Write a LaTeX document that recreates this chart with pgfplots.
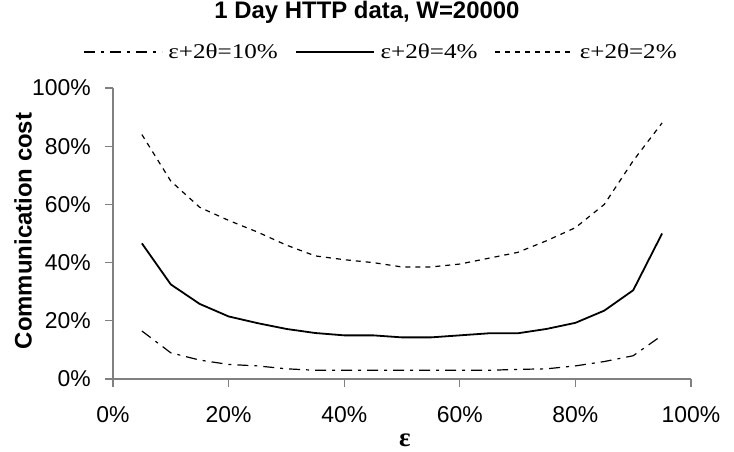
\documentclass[border=0pt]{standalone}
\usepackage{pgfplots}
\pgfplotsset{compat=1.18}
\usepackage{fontspec}
\usepackage{graphicx}
\setmainfont{Liberation Sans}
\newfontfamily\tnr{Liberation Serif}
\newcommand{\legtxt}[1]{\scalebox{1.2}[1]{\tnr\fontsize{21}{25}\selectfont #1}}
\begin{document}
\begin{tikzpicture}
\useasboundingbox (-113bp,-73bp) rectangle (621bp,379bp);
\begin{axis}[
  scale only axis, width=578bp, height=291bp,
  xmin=0, xmax=100, ymin=0, ymax=100,
  axis x line*=bottom, axis y line*=left,
  axis line style={draw=gray, line width=1.3bp, -},
  tick style={draw=gray, line width=1.3bp},
  tick align=outside, major tick length=8bp,
  xtick={0,20,40,60,80,100}, xticklabels={0\%,20\%,40\%,60\%,80\%,100\%},
  ytick={0,20,40,60,80,100}, yticklabels={0\%,20\%,40\%,60\%,80\%,100\%},
  ticklabel style={font=\fontsize{23}{27}\selectfont, inner sep=0pt},
  xticklabel style={anchor=center, yshift=-28bp},
  yticklabel style={anchor=east, xshift=-14bp},
  xlabel={\tnr\bfseries ε},
  xlabel style={at={(axis description cs:0.505,-0.2096)}, anchor=center, font=\fontsize{27}{30}\selectfont},
  ylabel={\bfseries Communication cost},
  ylabel style={at={(axis description cs:-0.1557,0.5086)}, anchor=center, font=\fontsize{24}{28}\selectfont},
  title={\bfseries 1 Day HTTP data, W=20000},
  title style={at={(axis description cs:0.4394,1.2388)}, anchor=center, font=\fontsize{24}{28}\selectfont},
  legend style={at={(axis description cs:0.4619,1.1237)}, anchor=center, draw=none, fill=none,
    inner sep=0pt, nodes={inner sep=0pt},
    legend columns=3,
    /tikz/every odd column/.append style={column sep=6bp},
    /tikz/every even column/.append style={column sep=17bp}},
  legend cell align=left,
  legend image code/.code={\draw[#1] (0bp,0bp) -- (78bp,0bp);},
]
\addplot[black, line width=1.2bp, dash pattern=on 11bp off 6bp on 3bp off 6bp] coordinates {
(5,16.5) (10,9) (15,6.5) (20,5) (25,4.5) (30,3.5) (35,3) (40,3) (45,3) (50,3) (55,3) (60,3) (65,3) (70,3.3) (75,3.5) (80,4.5) (85,6) (90,8) (95,15)};
\addlegendentry{\legtxt{ε+2θ=10\%}}
\addplot[black, line width=1.8bp] coordinates {
(5,46.6) (10,32.5) (15,25.8) (20,21.5) (25,19.2) (30,17.2) (35,15.8) (40,15) (45,15) (50,14.3) (55,14.3) (60,15) (65,15.7) (70,15.7) (75,17.2) (80,19.3) (85,23.5) (90,30.5) (95,50)};
\addlegendentry{\legtxt{ε+2θ=4\%}}
\addplot[black, line width=1.2bp, dash pattern=on 5bp off 5bp] coordinates {
(5,84) (10,68) (15,59) (20,54.5) (25,50.5) (30,46) (35,42.3) (40,41) (45,40) (50,38.5) (55,38.5) (60,39.5) (65,41.5) (70,43.5) (75,47.5) (80,52) (85,60) (90,75) (95,88)};
\addlegendentry{\legtxt{ε+2θ=2\%}}
\end{axis}
\end{tikzpicture}
\end{document}
